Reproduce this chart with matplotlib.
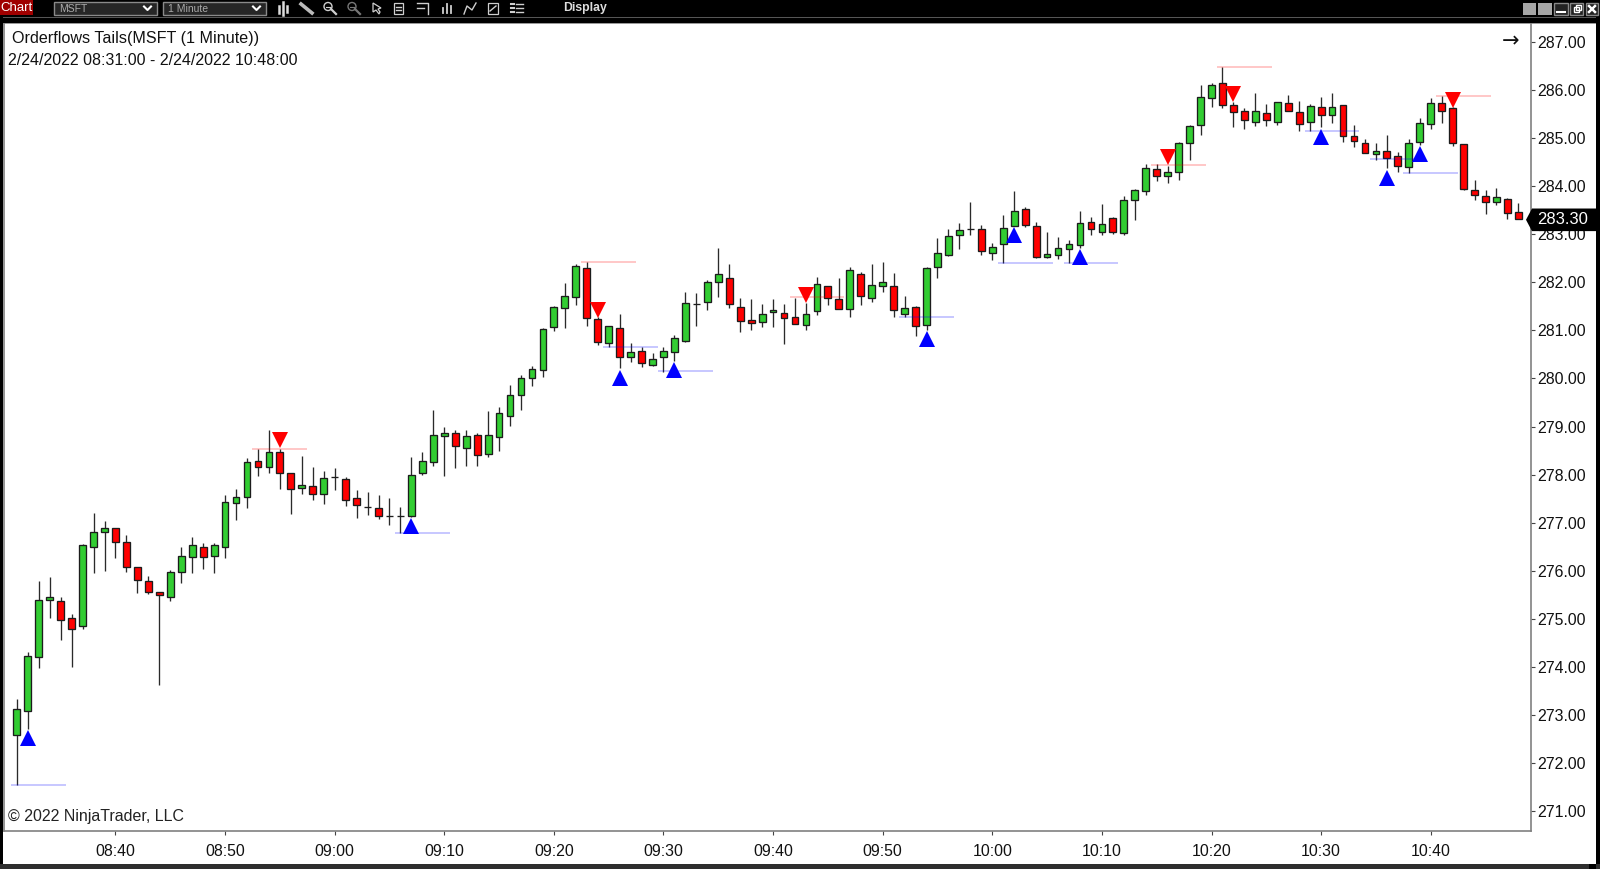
import matplotlib
matplotlib.use("Agg")
import matplotlib.pyplot as plt
from matplotlib.patches import Rectangle, Polygon
from matplotlib.transforms import blended_transform_factory

plt.rcParams['font.family'] = ['Liberation Sans', 'DejaVu Sans']

# ---- data: one-minute bars from 08:31 to 10:48 (times are minutes after 08:00) ----
start_minute = 31
opens = [272.58,273.09,274.20,275.39,275.37,275.02,274.85,276.49,276.80,276.90,276.60,276.07,275.79,275.55,275.46,275.98,276.28,276.49,276.30,276.50,277.42,277.54,278.29,278.15,278.47,278.04,
         277.73,277.77,277.59,277.95,277.92,277.52,277.33,277.30,277.14,277.15,277.14,278.03,278.27,278.80,278.87,278.55,278.82,278.42,278.78,279.21,279.65,280.00,
         280.17,281.07,281.47,281.70,282.30,281.23,280.74,281.06,280.45,280.57,280.29,280.45,280.55,280.78,281.54,281.59,282.00,282.10,281.49,281.21,281.18,281.39,281.37,281.27,281.11,281.41,
         281.93,281.66,281.44,282.18,281.68,281.93,281.92,281.34,281.48,281.11,282.32,282.56,282.98,283.10,283.10,282.60,282.79,283.17,283.52,283.17,282.52,282.56,282.69,282.77,
         283.25,283.04,283.34,283.03,283.71,283.89,284.35,284.21,284.29,284.90,285.28,285.83,286.14,285.68,285.57,285.33,285.52,285.33,285.73,285.54,
         285.33,285.64,285.47,285.68,285.04,284.90,284.66,284.73,284.62,284.39,284.92,285.29,285.72,285.63,284.88,283.91,283.79,283.68,283.74,283.46]
highs = [273.34,274.32,275.79,275.87,275.45,275.10,276.55,277.20,277.04,276.90,276.75,276.07,275.90,275.57,276.02,276.49,276.71,276.57,276.57,277.58,277.70,278.34,278.53,278.93,278.53,278.04,
         278.39,278.15,278.08,278.13,277.96,277.68,277.63,277.58,277.51,277.32,278.36,278.48,279.35,278.99,278.92,278.92,278.86,279.32,279.41,279.87,280.07,280.25,
         281.04,281.51,281.98,282.38,282.42,281.27,281.10,281.34,280.73,280.66,280.53,280.65,280.91,281.79,281.77,282.04,282.71,282.38,281.67,281.65,281.55,281.65,281.55,281.68,281.57,282.11,
         281.93,282.09,282.31,282.22,282.38,282.42,282.19,281.72,281.51,282.31,282.92,283.11,283.23,283.67,283.19,282.81,283.40,283.90,283.56,283.25,283.04,282.94,282.88,283.49,
         283.35,283.62,283.36,283.80,283.94,284.46,284.46,284.42,284.92,285.28,286.10,286.14,286.47,285.74,285.62,285.93,285.71,285.76,285.90,285.77,
         285.70,285.86,285.93,285.68,285.28,284.99,284.89,285.06,284.72,284.98,285.42,285.83,285.87,285.65,284.88,284.13,283.93,283.96,283.76,283.64]
lows = [271.54,272.71,273.99,275.02,274.57,274.00,274.80,275.96,275.99,276.27,275.97,275.53,275.51,273.62,275.37,275.75,275.96,276.04,275.96,276.27,277.06,277.31,277.98,278.04,277.70,277.19,
        277.59,277.48,277.40,277.69,277.34,277.09,277.16,277.07,276.96,276.78,277.11,277.99,278.17,277.98,278.14,278.19,278.17,278.36,278.50,279.02,279.35,279.85,
        280.04,280.98,281.05,281.52,281.10,280.69,280.66,280.22,280.35,280.23,280.25,280.14,280.37,280.75,281.10,281.43,281.69,281.47,280.96,281.01,281.08,281.08,280.72,281.13,281.01,281.33,
        281.52,281.44,281.27,281.53,281.60,281.80,281.27,281.27,280.89,281.01,282.08,282.55,282.70,282.99,282.56,282.47,282.41,283.17,283.15,282.50,282.50,282.49,282.41,282.72,
        282.98,282.98,283.00,282.98,283.30,283.81,284.11,284.06,284.13,284.54,285.06,285.64,285.62,285.24,285.19,285.26,285.26,285.28,285.56,285.15,
        285.14,285.22,285.32,284.91,284.81,284.68,284.55,284.38,284.29,284.28,284.86,285.18,285.32,284.84,283.93,283.72,283.42,283.61,283.32,283.31]
closes = [273.12,274.22,275.39,275.45,274.97,274.80,276.53,276.80,276.89,276.59,276.07,275.81,275.55,275.49,275.97,276.30,276.53,276.28,276.53,277.44,277.54,278.27,278.16,278.47,278.04,277.70,
          277.78,277.59,277.94,277.95,277.47,277.36,277.33,277.14,277.14,277.15,277.99,278.28,278.82,278.87,278.59,278.80,278.40,278.82,279.28,279.65,280.02,280.19,
          281.02,281.49,281.71,282.34,281.25,280.76,281.09,280.45,280.55,280.33,280.40,280.57,280.84,281.57,281.54,282.01,282.17,281.54,281.19,281.16,281.35,281.42,281.26,281.14,281.34,281.96,
          281.68,281.44,282.25,281.72,281.95,282.00,281.42,281.46,281.09,282.29,282.60,282.96,283.08,283.10,282.65,282.74,283.14,283.48,283.19,282.52,282.58,282.72,282.79,283.23,
          283.10,283.22,283.05,283.71,283.93,284.38,284.21,284.29,284.90,285.26,285.85,286.11,285.68,285.54,285.38,285.56,285.38,285.74,285.56,285.30,
          285.66,285.49,285.65,285.04,284.93,284.69,284.73,284.59,284.42,284.90,285.32,285.72,285.56,284.90,283.95,283.81,283.66,283.77,283.45,283.31]

up_minutes = [32, 67, 86, 91, 114, 122, 128, 150, 156, 159]
up_prices = [272.53, 276.94, 280.01, 280.18, 280.82, 282.99, 282.53, 285.02, 284.17, 284.67]
down_minutes = [55, 84, 103, 136, 142, 162]
down_prices = [278.72, 281.43, 281.74, 284.61, 285.92, 285.79]

support_minutes = [31, 66, 85, 90, 112, 121, 127, 149, 155, 158]
support_prices = [271.54, 276.78, 280.66, 280.15, 281.28, 282.41, 282.41, 285.14, 284.56, 284.28]
resist_minutes = [53, 83, 102, 135, 141, 161]
resist_prices = [278.53, 282.42, 281.70, 284.45, 286.47, 285.87]
level_span_bars = 5

y_ticks = list(range(271, 288))
x_tick_minutes = list(range(40, 161, 10))
x_tick_labels = ["08:40","08:50","09:00","09:10","09:20","09:30","09:40","09:50","10:00","10:10","10:20","10:30","10:40"]
last_price = 283.30

title = "Orderflows Tails(MSFT (1 Minute))"
date_range = "2/24/2022 08:31:00 - 2/24/2022 10:48:00"
copyright_text = "\u00a9 2022 NinjaTrader, LLC"

# ---- figure ----
W, H = 1600, 869
fig = plt.figure(figsize=(W/100, H/100), dpi=100, facecolor="white")
chrome = fig.add_axes([0, 0, 1, 1], zorder=0)
chrome.set_xlim(0, W); chrome.set_ylim(H, 0); chrome.axis("off")

def box(x0, y0, x1, y1, fc, ec="none", lw=0):
    chrome.add_patch(Rectangle((x0, y0), x1-x0, y1-y0, fc=fc, ec=ec, lw=lw))

box(0, 0, W, 24, "black")
box(0, 17, W, 18, "#555555")
box(0, 23, W, 24, "#999999")
box(0, 0, 3, H, "black")
box(1596, 0, W, H, "black")
box(0, 864, W, H, "#2e2e2e")
box(1589, 864, 1596, H, "black")
box(0, 0, 33, 15, "#a00000")
chrome.text(16.5, 8, "Chart", color="white", fontsize=9.5, ha="center", va="center")
for x0, x1, label in [(54, 157, "MSFT"), (163, 266, "1 Minute")]:
    box(x0, 2, x1, 15, "#262626", "#8a8a8a", 1)
    chrome.text(x0+5, 8.5, label, color="#aaaaaa", fontsize=7.5, ha="left", va="center")
    chrome.plot([x1-13, x1-9.5, x1-6], [6.5, 10, 6.5], color="white", lw=1.5)
chrome.text(563, 8.5, "Display", color="#dddddd", fontsize=8.8, ha="left", va="center", fontweight="bold")

icon = dict(color="#cfcfcf", lw=1)
for dx, (a, b) in zip([279, 283, 287], [(6, 13), (2, 15), (6, 12)]):
    chrome.plot([dx, dx], [a, b], color="#dddddd", lw=1.8)
chrome.plot([301, 312], [4, 13], color="#bbbbbb", lw=2.6)
for cx, c in [(328, "#cfcfcf"), (352, "#777777")]:
    chrome.plot([cx+3, cx+8], [9, 14], color=c, lw=1.6)
    chrome.add_patch(plt.Circle((cx, 6.5), 4, fc="none", ec=c, lw=1))
    chrome.plot([cx-2, cx+2], [6.5, 6.5], color=c, lw=0.8)
chrome.add_patch(Polygon([(373, 3), (373, 12), (376, 10), (379, 14), (380, 12), (378, 9), (381, 8)], fc="none", ec="#cfcfcf", lw=0.9))
chrome.add_patch(Rectangle((394, 3), 9, 11, fc="none", ec="#cfcfcf", lw=0.9))
chrome.plot([396, 401], [7, 7], **icon); chrome.plot([396, 401], [10, 10], **icon)
chrome.plot([417, 428, 428], [3, 3, 14], **icon); chrome.plot([417, 424], [8, 8], **icon)
for dx, top in [(443, 8), (447, 4), (451, 6)]:
    chrome.plot([dx, dx], [top, 13], color="#cfcfcf", lw=1.3)
chrome.plot([464, 467, 472, 476], [14, 6, 10, 3], **icon)
chrome.add_patch(Rectangle((488, 3), 10, 11, fc="none", ec="#cfcfcf", lw=0.9))
chrome.plot([490, 496], [11, 6], **icon)
for yy in (4, 8, 12):
    chrome.plot([511, 514], [yy, yy], color="#cfcfcf", lw=1.5)
    chrome.plot([516, 523], [yy, yy], **icon)

box(1523, 3, 1536, 15, "#a6a6a6")
box(1538, 3, 1552, 15, "#a6a6a6")
for x0, x1 in [(1554, 1568), (1570, 1583), (1586, 1598)]:
    box(x0, 3, x1, 15, "#222222", "#888888", 1)
chrome.plot([1557, 1565], [12, 12], color="white", lw=1.5)
chrome.add_patch(Rectangle((1574, 7), 5, 5, fc="none", ec="white", lw=1))
chrome.add_patch(Rectangle((1576, 5), 5, 5, fc="none", ec="white", lw=1))
chrome.plot([1589, 1595], [6, 12], color="white", lw=1.8)
chrome.plot([1589, 1595], [12, 6], color="white", lw=1.8)

# ---- price panel ----
L, R, T, B = 4, 1531, 24, 831
ax = fig.add_axes([L/W, 1-B/H, (R-L)/W, (B-T)/H], zorder=1)
ax.set_facecolor("white")
ax.set_xlim(29.83, 169.15)
ax.set_ylim(270.59, 287.372)
ax.spines["top"].set_visible(False)
for side in ("left", "right", "bottom"):
    ax.spines[side].set_color("#808080")
    ax.spines[side].set_linewidth(1.2)
ax.yaxis.tick_right()
ax.set_yticks(y_ticks)
ax.set_yticklabels([f"{v:.2f}" for v in y_ticks])
ax.set_xticks(x_tick_minutes)
ax.set_xticklabels(x_tick_labels)
ax.tick_params(axis="y", length=3.2, width=0.8, color="#444444", pad=1.6, labelsize=11.4, labelcolor="#111111")
ax.tick_params(axis="x", length=3.2, width=0.8, color="#444444", pad=6.2, labelsize=11.4, labelcolor="#111111")

minutes = [start_minute + i for i in range(len(opens))]
ax.vlines(minutes, lows, highs, color="#2a2a2a", lw=0.95, zorder=2)
body_bottom = [min(o, c) for o, c in zip(opens, closes)]
body_height = [abs(c - o) for o, c in zip(opens, closes)]
body_color = ["#32cd32" if c >= o else "#ff0000" for o, c in zip(opens, closes)]
ax.bar(minutes, body_height, bottom=body_bottom, width=0.62, color=body_color,
       edgecolor="#1c1c1c", linewidth=0.95, zorder=3)

for m, p in zip(support_minutes, support_prices):
    ax.hlines(p, m-0.5, m-0.5+level_span_bars, color="#0000ff", alpha=0.22, lw=1.4, zorder=4)
for m, p in zip(resist_minutes, resist_prices):
    ax.hlines(p, m-0.5, m-0.5+level_span_bars, color="#ff0000", alpha=0.22, lw=1.4, zorder=4)

ax.plot(up_minutes, up_prices, ls="none", marker="^", ms=11.4, mfc="#0000ff", mew=0, zorder=5)
ax.plot(down_minutes, down_prices, ls="none", marker="v", ms=11.4, mfc="#ff0000", mew=0, zorder=5)

# last-price flag
tr = blended_transform_factory(chrome.transData, ax.transData)
ax.add_patch(Polygon([(1526, last_price), (1532, last_price+0.235), (1596, last_price+0.235),
                      (1596, last_price-0.235), (1532, last_price-0.235)],
                     closed=True, fc="black", ec="none", transform=tr, clip_on=False, zorder=8))
ax.text(1563, last_price, f"{last_price:.2f}", color="white", fontsize=12, ha="center", va="center",
        transform=tr, clip_on=False, zorder=9)

# overlay text (pixel placement)
overlay = fig.add_axes([0, 0, 1, 1], zorder=2)
overlay.set_xlim(0, W); overlay.set_ylim(H, 0); overlay.axis("off"); overlay.patch.set_alpha(0)
overlay.text(12.5, 38, title, fontsize=11.6, color="#111111", ha="left", va="center")
overlay.text(8.3, 60.5, date_range, fontsize=11.55, color="#111111", ha="left", va="center")
overlay.text(8, 816, copyright_text, fontsize=11.55, color="#222222", ha="left", va="center")
overlay.text(1511, 41.5, "\u2192", fontsize=15, color="#111111", ha="center", va="center",
             family=["DejaVu Sans"])

fig.savefig("out.png", dpi=100, facecolor="white")
